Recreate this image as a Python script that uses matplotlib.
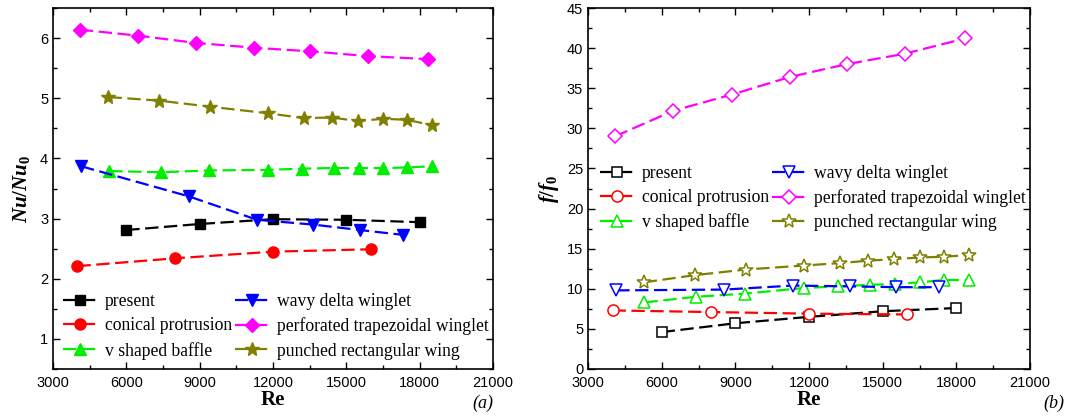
import matplotlib
matplotlib.use("Agg")
import matplotlib.pyplot as plt
from matplotlib.ticker import MultipleLocator

plt.rcParams["mathtext.fontset"] = "custom"
plt.rcParams["mathtext.it"] = "Liberation Serif:italic:bold"
plt.rcParams["mathtext.bf"] = "Liberation Serif:bold"
plt.rcParams["mathtext.rm"] = "Liberation Serif:bold"

# ---------------- data ----------------
labels = ["present", "conical protrusion", "v shaped baffle",
          "wavy delta winglet", "perforated trapezoidal winglet", "punched rectangular wing"]
colors = ["black", "red", "#00ee00", "blue", "magenta", "#808000"]
markers = ["s", "o", "^", "v", "D", "*"]

re_present = [6000, 9000, 12000, 15000, 18000]
re_conical = [4000, 8000, 12000, 16000]
re_vbaffle = [5300, 7400, 9400, 11800, 13200, 14500, 15500, 16500, 17500, 18500]
re_wavy = [4150, 8550, 11350, 13650, 15550, 17300]
re_perf = [4100, 6480, 8850, 11220, 13530, 15900, 18350]
re_punch = [5270, 7350, 9420, 11800, 13250, 14420, 15470, 16520, 17500, 18520]

nu_present = [2.81, 2.91, 2.99, 2.98, 2.94]
nu_conical = [2.21, 2.34, 2.45, 2.49]
nu_vbaffle = [3.79, 3.77, 3.80, 3.81, 3.83, 3.84, 3.84, 3.84, 3.85, 3.87]
nu_wavy = [3.87, 3.37, 2.98, 2.90, 2.81, 2.73]
nu_perf = [6.14, 6.04, 5.92, 5.84, 5.78, 5.70, 5.65]
nu_punch = [5.02, 4.96, 4.86, 4.75, 4.67, 4.68, 4.62, 4.66, 4.64, 4.55]

f_present = [4.6, 5.7, 6.5, 7.2, 7.6]
f_conical = [7.3, 7.1, 6.9, 6.8]
f_vbaffle = [8.3, 9.0, 9.4, 10.1, 10.3, 10.5, 10.6, 10.8, 11.1, 11.1]
f_wavy = [9.8, 9.9, 10.4, 10.3, 10.2, 10.2]
f_perf = [29.0, 32.2, 34.2, 36.4, 38.0, 39.3, 41.2]
f_punch = [10.8, 11.7, 12.4, 12.9, 13.2, 13.5, 13.7, 13.9, 14.0, 14.2]

re_all = [re_present, re_conical, re_vbaffle, re_wavy, re_perf, re_punch]
nu_all = [nu_present, nu_conical, nu_vbaffle, nu_wavy, nu_perf, nu_punch]
f_all = [f_present, f_conical, f_vbaffle, f_wavy, f_perf, f_punch]

# ---------------- figure ----------------
W, H = 1067, 418
fig = plt.figure(figsize=(W / 100, H / 100), dpi=100)
serif = "Liberation Serif"
sans = "Liberation Sans"

ax1 = fig.add_axes([53 / W, 1 - 369 / H, 440 / W, 361 / H])
ax2 = fig.add_axes([588 / W, 1 - 369 / H, 442 / W, 361 / H])

msizes = {"s": 7, "o": 8, "^": 8, "v": 8, "D": 7, "*": 10}

def draw(ax, ys, filled):
    for x, y, lab, c, m in zip(re_all, ys, labels, colors, markers):
        ax.plot(x, y, linestyle=(0, (6, 2.5)), color=c, lw=1.6,
                marker=m, markersize=msizes[m],
                markerfacecolor=c if filled else "white",
                markeredgecolor=c, markeredgewidth=1.0 if filled else 1.1,
                label=lab)

draw(ax1, nu_all, True)
draw(ax2, f_all, False)

for ax in (ax1, ax2):
    ax.set_xlim(3000, 21000)
    ax.xaxis.set_major_locator(MultipleLocator(3000))
    ax.xaxis.set_minor_locator(MultipleLocator(1500))
    ax.tick_params(which="both", direction="in", top=True, right=True)
    ax.tick_params(which="major", length=5, width=1.0, labelsize=10.5)
    ax.tick_params(axis="x", which="major", pad=5)
    ax.tick_params(which="minor", length=3, width=1.0)
    for lbl in ax.get_xticklabels() + ax.get_yticklabels():
        lbl.set_fontfamily(sans)
    for s in ax.spines.values():
        s.set_linewidth(1.2)
    ax.set_xlabel("Re", fontsize=15, fontweight="bold", fontfamily=serif, labelpad=0)

ax1.set_ylim(0.5, 6.5)
ax1.yaxis.set_major_locator(MultipleLocator(1))
ax1.yaxis.set_minor_locator(MultipleLocator(0.5))
ax1.set_ylabel(r"$\mathit{Nu}/\mathit{Nu}_\mathbf{0}$", fontsize=15, labelpad=6)

ax2.set_ylim(0, 45)
ax2.yaxis.set_major_locator(MultipleLocator(5))
ax2.yaxis.set_minor_locator(MultipleLocator(2.5))
ax2.set_ylabel(r"$\mathit{f}/\mathit{f}_\mathbf{0}$", fontsize=15, labelpad=4)

leg_kw = dict(ncol=2, frameon=False, handlelength=1.9, handletextpad=0.45,
              columnspacing=0.2, labelspacing=0.42, borderpad=0.2,
              prop={"family": serif, "size": 12.7}, loc="upper left")
ax1.legend(bbox_to_anchor=(-0.005, 0.245), **leg_kw)
ax2.legend(bbox_to_anchor=(0.0, 0.6), **leg_kw)

fig.text(493 / W, 1 - 403 / H, "(a)", fontsize=13, fontstyle="italic",
         fontfamily=serif, ha="right", va="center")
fig.text(1064 / W, 1 - 403 / H, "(b)", fontsize=13, fontstyle="italic",
         fontfamily=serif, ha="right", va="center")

fig.savefig("out.png", dpi=100)
